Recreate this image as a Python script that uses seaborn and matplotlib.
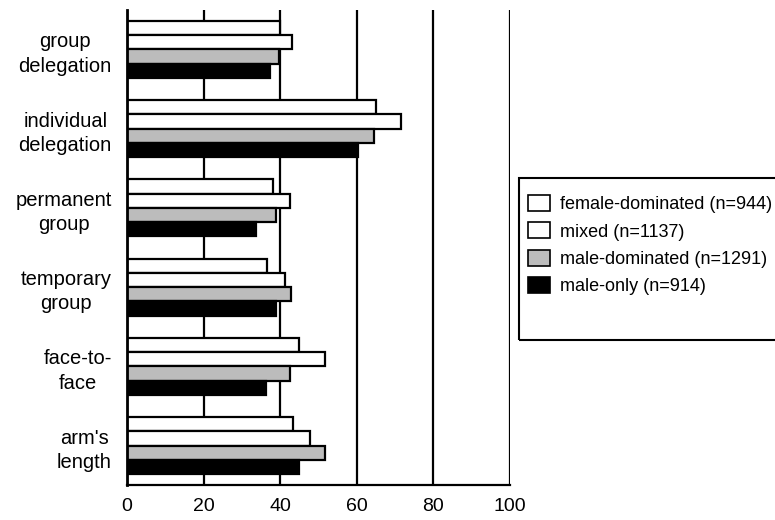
import numpy as np
import pandas as pd
import matplotlib
matplotlib.use('Agg')
import matplotlib.pyplot as plt
from matplotlib.patches import Patch, Rectangle
import seaborn as sns

categories = ['group\ndelegation', 'individual\ndelegation', 'permanent\ngroup',
              'temporary\ngroup', 'face-to-\nface', "arm's\nlength"]
groups = ['female-dominated (n=944)', 'mixed (n=1137)',
          'male-dominated (n=1291)', 'male-only (n=914)']
female_dom = [40.0, 65.0, 38.2, 36.5, 45.0, 43.3]
mixed = [43.0, 71.5, 42.6, 41.3, 51.7, 47.8]
male_dom = [39.7, 64.5, 38.9, 42.7, 42.6, 51.7]
male_only = [37.3, 60.3, 33.7, 38.9, 36.2, 45.0]
colors = ['white', 'white', '#bcbcbc', 'black']

rows = []
for g, vals in zip(groups, [female_dom, mixed, male_dom, male_only]):
    for c, v in zip(categories, vals):
        rows.append({'category': c, 'group': g, 'value': v})
data = pd.DataFrame(rows)

sns.set_style('white')
plt.rcParams['font.family'] = ['Liberation Sans', 'DejaVu Sans']
for k in ['text.color', 'xtick.color', 'ytick.color', 'axes.labelcolor']:
    plt.rcParams[k] = 'black'

fig = plt.figure(figsize=(7.75, 5.2), dpi=100)
ax = fig.add_axes([0.164, 0.067, 0.494, 0.914])

sns.barplot(data=data, y='category', x='value', hue='group', order=categories,
            hue_order=groups, palette=colors, orient='h', width=0.72,
            edgecolor='black', linewidth=1.6, saturation=1, legend=False, ax=ax)

ax.set_xlim(0, 100)
ax.set_ylim(5.5, -0.5)
ax.set_xticks(np.arange(0, 101, 20))
ax.set_axisbelow(True)
ax.grid(axis='x', color='black', linewidth=1.6)
ax.grid(axis='y', visible=False)
ax.set_xlabel('')
ax.set_ylabel('')

ax.set_yticks(range(len(categories)))
ax.set_yticklabels(categories, fontsize=14.5, ma='center', linespacing=1.35)
ax.set_yticks(np.arange(-0.5, 6, 1), minor=True)
ax.tick_params(axis='y', which='major', length=0, pad=11)
ax.tick_params(axis='y', which='minor', length=7, width=1.6, color='black', direction='out')
ax.tick_params(axis='x', length=6, width=1.6, color='black', direction='out', labelsize=14, pad=3)

for s in ['top', 'right']:
    ax.spines[s].set_visible(False)
ax.spines['left'].set_linewidth(2)
ax.spines['bottom'].set_linewidth(1.6)
ax.spines['left'].set_color('black')
ax.spines['bottom'].set_color('black')

handles = [Patch(facecolor=c, edgecolor='black', linewidth=1.2) for c in colors]
fig.legend(handles, groups, loc='upper left', bbox_to_anchor=(528 / 775, 1 - 195 / 520),
           frameon=False, fontsize=13, handlelength=1.2, handleheight=1.0,
           handletextpad=0.55, labelspacing=0.5, borderpad=0, borderaxespad=0)
fig.patches.append(Rectangle((519 / 775, 1 - 340 / 520), 0.4, 162 / 520, fill=False,
                             edgecolor='black', linewidth=1.5, transform=fig.transFigure))

fig.savefig('out.png', dpi=100)
